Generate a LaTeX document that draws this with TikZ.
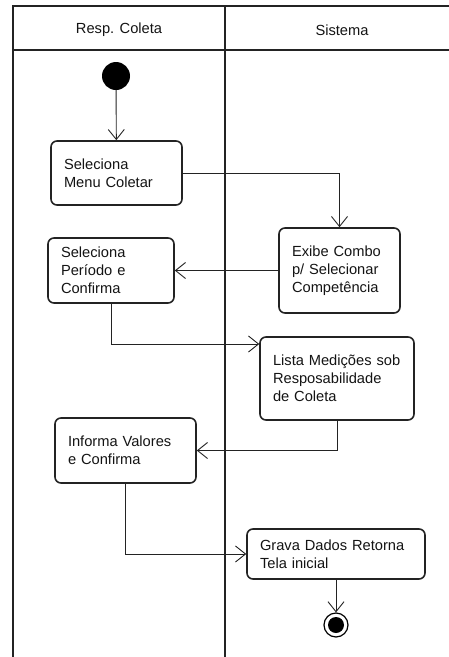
\documentclass[tikz,border=0pt]{standalone}
\usepackage{fontspec}
\setmainfont{Liberation Sans}
\usepackage{tikz}
\usetikzlibrary{arrows.meta, positioning}
\definecolor{linhaUml}{RGB}{35, 35, 35}
\definecolor{textoUml}{RGB}{20, 20, 20}
\tikzset{
  acao/.style={
    rectangle, rounded corners=6pt,
    draw=linhaUml, line width=1.6pt, fill=white,
    inner xsep=13pt, inner ysep=0pt,
    align=left, text=textoUml,
    font=\fontsize{14.67}{18}\selectfont
  },
  raia/.style={
    draw=linhaUml, line width=1.8pt
  },
  titulo/.style={
    text=textoUml, inner sep=0pt,
    font=\fontsize{14.67}{18}\selectfont
  },
  seta/.style={
    -{Straight Barb[length=10pt,width=16pt]},
    line width=0.9pt,
    color=linhaUml
  },
  inicio/.style={
    circle, fill=black, minimum size=28pt, inner sep=0pt
  },
  fim/.style={
    circle, draw=black, line width=1.2pt, fill=white,
    minimum size=24pt, inner sep=0pt,
    path picture={\fill[black] (path picture bounding box.center) circle (8pt);}
  }
}

\begin{document}
\begin{tikzpicture}[x=1pt, y=-1pt]
\useasboundingbox (0,0) rectangle (449,657);

% --- swimlanes ---
\draw[raia] (13,657) -- (13,6) -- (455,6);
\draw[raia] (13,50) -- (455,50);
\draw[raia] (225,6) -- (225,657);
\node[titulo] (raiaResp) at (119,30) {Resp. Coleta};
\node[titulo] (raiaSis) at (342,30) {Sistema};

% --- Resp. Coleta ---
\node[inicio] (inicio) at (116,76) {};
\node[acao, text width=105pt, minimum height=64pt] (menu) at (116.5,173) {Seleciona\\Menu Coletar};
\node[acao, text width=100pt, minimum height=65pt] (periodo) at (111,270.5) {Seleciona\\Período e\\Confirma};
\node[acao, text width=115pt, minimum height=65pt] (valores) at (125.5,450.5) {Informa Valores\\e Confirma};

% --- Sistema ---
\node[acao, text width=95pt, minimum height=85pt] (combo) at (339.5,270.5) {Exibe Combo\\p/ Selecionar\\Competência};
\node[acao, text width=128pt, minimum height=83pt] (lista) at (337,378.5) {Lista Medições sob\\Resposabilidade\\de Coleta};
\node[acao, text width=152pt, minimum height=50pt] (grava) at (336,554) {Grava Dados Retorna\\Tela inicial};
\node[fim] (fim) at (336,625) {};

% --- fluxo ---
\draw[seta] (inicio) -- (menu);
\draw[seta] (menu.east) -| (combo.north);
\draw[seta] (combo) -- (periodo);
\draw[seta] (periodo.south) |- ([yshift=34.5pt]lista.west);
\draw[seta] (lista.south) |- (valores.east);
\draw[seta] (valores.south) |- (grava.west);
\draw[seta] (grava) -- (fim);

\end{tikzpicture}
\end{document}
